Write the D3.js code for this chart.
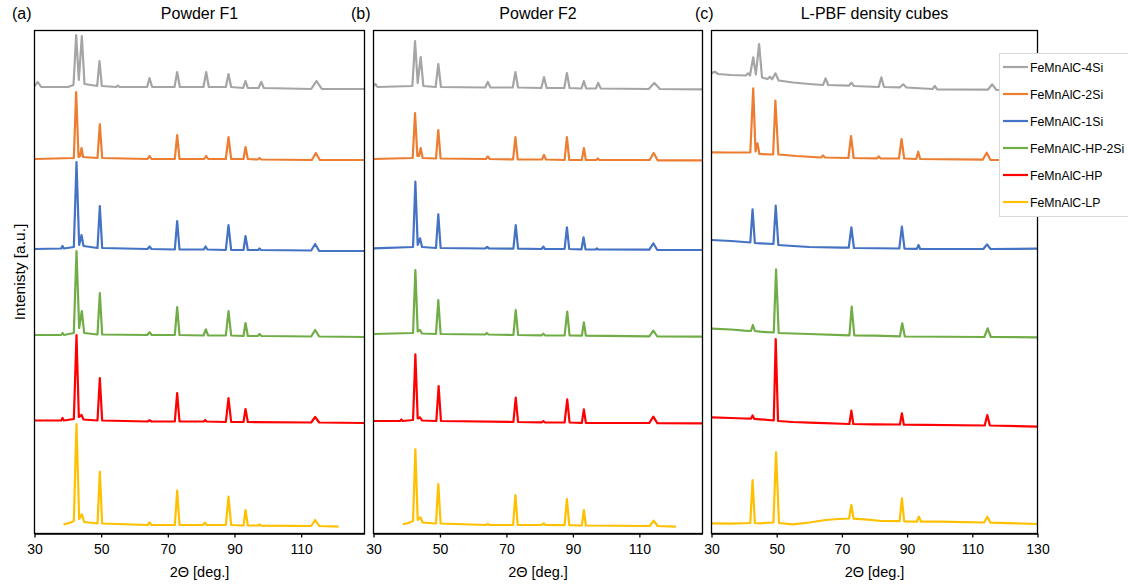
<!DOCTYPE html>
<html>
<head>
<meta charset="utf-8">
<script src="https://cdn.jsdelivr.net/npm/d3@7"></script>
<style>
  html, body { margin: 0; padding: 0; background: #fff; }
  svg { display: block; font-family: "Liberation Sans", Arial, sans-serif; }
</style>
</head>
<body>
<svg id="chart" width="1128" height="586"></svg>
<script>
// ---------------- DATA ----------------
const seriesNames = ["FeMnAlC-4Si", "FeMnAlC-2Si", "FeMnAlC-1Si", "FeMnAlC-HP-2Si", "FeMnAlC-HP", "FeMnAlC-LP"];
const seriesColors = ["#A5A5A5", "#ED7D31", "#4472C4", "#70AD47", "#FF0000", "#FFC000"];
const panelTitles = ["Powder F1", "Powder F2", "L-PBF density cubes"];
const panelLabels = ["(a)", "(b)", "(c)"];
const ticksAB = [30, 50, 70, 90, 110];
const ticksC = [30, 50, 70, 90, 110, 130];
const xTitle = "2\u0398 [deg.]";
const yTitle = "Intenisty [a.u.]";

// [2theta, stacked intensity (a.u.)]
const F1_4Si = [[30,447],[31,451],[32,446],[40,446],[41.7,448],[42.5,498],[43.3,453],[44.2,497],[45.0,449],[48.8,447],[49.5,472],[50.2,447],[54.5,446],[55,447.5],[55.5,446],[63.8,446],[64.5,455],[65.3,446],[72.0,446],[72.8,461],[73.6,446],[80.7,446],[81.5,461],[82.3,446],[87.4,446],[88.2,459],[89.0,446],[92.6,445],[93.3,452],[94.0,445],[97.2,445],[98.0,451],[98.8,445],[113,444],[114.6,452],[116.2,444],[129,444]];
const F1_2Si = [[30,374],[41.8,375],[42.5,441],[43.2,376],[43.7,377],[44.1,385],[44.6,376],[48.9,375],[49.6,409],[50.3,375],[63.9,374],[64.5,377],[65.1,374],[72.1,374],[72.8,398],[73.5,374],[80.9,374],[81.5,377],[82.1,374],[87.4,374],[88.2,396],[89.0,374],[92.7,374],[93.3,386],[94.0,374],[97,373.5],[97.5,375],[98,373.5],[113.2,373],[114.4,380],[115.6,373],[129,373]];
const F1_1Si = [[30,284],[38,284.5],[38.4,287],[38.8,284.5],[41.8,286],[42.6,371],[43.4,288],[44.1,298],[44.7,287],[48.9,285],[49.6,327],[50.3,285],[63.9,284],[64.5,286.5],[65.1,284],[72.1,283.5],[72.8,312],[73.5,283.5],[80.8,283.5],[81.3,286.5],[81.9,283.5],[87.4,283],[88.2,308],[89.0,283],[92.7,283],[93.3,297],[94.0,283],[97.1,283],[97.5,284.5],[98,283],[113.0,282.5],[114.2,289],[115.4,282],[129,282]];
const F1_HP2Si = [[30,198],[38,198],[38.4,200],[38.8,198],[41.8,200],[42.6,282],[43.4,205],[44.2,222],[44.9,200],[48.9,198.5],[49.6,240],[50.3,198.5],[63.8,198],[64.5,200.7],[65.2,198],[72.1,198],[72.8,226],[73.5,198],[80.7,197.5],[81.4,203.7],[82.1,197.5],[87.4,197.5],[88.2,222],[89.0,197.5],[92.7,197],[93.3,210],[94.0,197],[97.0,197],[97.5,199],[98.1,197],[113,196.5],[114.2,203],[115.4,196.5],[129,196]];
const F1_HP = [[30,112.5],[38,112.5],[38.4,115],[38.8,112.5],[41.8,114],[42.6,198],[43.3,116],[44.1,118],[44.7,113.5],[48.9,112.5],[49.6,155],[50.3,112.5],[63.9,111.5],[64.5,112.7],[65.1,111.5],[72.1,111.5],[72.8,140],[73.5,111.5],[80.8,111.5],[81.2,113],[81.6,111.5],[87.4,111],[88.2,135],[89.0,111],[92.7,111],[93.3,124],[94.0,111],[113,110.5],[114.2,116],[115.4,110.5],[129,110]];
const F1_LP = [[38.7,8.7],[40.5,10],[41.8,12],[42.6,109],[43.4,14],[44.2,18.7],[44.9,11],[48.9,9.5],[49.6,61.3],[50.3,9.5],[63.9,8],[64.5,10.5],[65.1,8],[72.1,8],[72.8,42.3],[73.5,8],[80.5,8],[81.1,10.3],[81.7,8],[87.4,8],[88.2,36.3],[89.0,8],[92.7,7.5],[93.3,23],[94.0,7.5],[97.1,7.5],[97.5,8.5],[98,7.3],[113,7],[114.2,13],[115.4,7],[121.2,6.3]];

const F2_4Si = [[30,447],[30.6,449],[31.2,446],[41.7,447],[42.5,492],[43.3,450],[44.2,476],[45.0,447],[48.7,446],[49.5,469],[50.3,446],[63.6,445.5],[64.4,451],[65.2,445.5],[71.9,445.5],[72.7,461],[73.5,445.5],[80.5,445],[81.3,456],[82.1,445],[87.4,445],[88.2,460],[89.0,445],[92.6,444.5],[93.3,452],[94.0,444.5],[96.9,444.5],[97.6,450],[98.4,444.5],[112.8,444],[114.5,450],[116.2,444],[129,443.7]];
const F2_2Si = [[30,374],[41.8,375],[42.5,420],[43.2,377],[43.7,377],[44.2,385],[44.8,375],[48.8,374.5],[49.5,403],[50.2,374.5],[63.8,374],[64.4,376.5],[65.0,374],[72.0,373.5],[72.7,396],[73.4,373.5],[80.7,373.5],[81.3,378],[81.9,373.5],[87.5,373],[88.2,396],[88.9,373],[92.7,373],[93.3,385],[93.9,373],[97.0,373],[97.5,374.5],[98.0,373],[113.1,373],[114.3,380],[115.5,372.7],[129,372.7]];
const F2_1Si = [[30,284.7],[41.9,286],[42.6,351.3],[43.3,288],[44.0,294.7],[44.6,286],[48.8,285],[49.5,318.7],[50.2,285],[63.6,284.5],[64.2,286],[64.8,284.5],[72.1,284.3],[72.8,308],[73.5,284.3],[80.6,284],[81.1,286.3],[81.6,284],[87.5,284],[88.2,305.7],[88.9,284],[92.6,283.7],[93.2,295.7],[93.8,283.7],[96.8,283.5],[97.2,284.5],[97.6,283.5],[113,283.3],[114.2,289.7],[115.4,283],[129,283]];
const F2_HP2Si = [[30,199],[41.9,200],[42.6,263],[43.3,201.5],[44.0,203],[44.6,199.5],[48.8,199],[49.5,233],[50.2,199],[63.6,198.5],[64.1,200],[64.6,198.5],[72.1,198],[72.8,223],[73.5,198],[80.6,197.7],[81.1,199.3],[81.6,197.7],[87.5,197.5],[88.3,221.3],[89.0,197.5],[92.7,197.3],[93.3,210.7],[93.9,197.3],[113,196.7],[114.2,202.3],[115.4,196.5],[129,196.3]];
const F2_HP = [[30,112],[38.0,112],[38.4,113.5],[38.8,112],[41.9,113],[42.6,178.7],[43.3,114.5],[44.0,115.7],[44.6,112.5],[48.9,112],[49.6,147],[50.3,112],[72.1,111],[72.8,135.3],[73.5,111],[80.6,110.7],[81.1,111.8],[81.6,110.7],[87.5,110.5],[88.3,133.7],[89.0,110.5],[92.7,110.2],[93.3,123.7],[93.9,110.2],[113,110],[114.2,116.3],[115.4,109.8],[129,109.7]];
const F2_LP = [[38.8,8.7],[40.5,10],[41.9,12],[42.6,83.7],[43.3,13],[44.1,15.7],[44.8,10.5],[48.8,9.5],[49.5,49],[50.2,9.5],[63.8,8],[64.4,9],[65.0,8],[72.0,8],[72.7,38],[73.4,8],[80.6,8],[81.2,9.7],[81.8,8],[87.5,7.8],[88.2,34],[88.9,7.8],[92.7,7.5],[93.3,23],[93.9,7.5],[113.1,7],[114.3,12.3],[115.5,7],[121.0,6.3]];

const C_4Si = [[30,459.7],[31,461.3],[32,459],[36,458],[40.5,457.5],[41.2,459.7],[41.8,457.5],[42.8,475.7],[43.6,458.5],[44.6,489],[45.5,455.5],[47.2,454],[47.9,456.3],[48.6,453.7],[49.6,459.7],[50.6,452.5],[55,450.5],[60,449],[64.2,448],[65.0,454.7],[65.8,448],[72.1,447.3],[72.9,450.3],[73.7,447],[81.3,446],[82.1,455.7],[82.9,446],[87.8,445.7],[88.8,448.7],[89.8,445.5],[97.8,444],[98.5,447],[99.2,443.7],[114.8,443.3],[116.1,448.7],[117.4,443],[130,443]];
const C_2Si = [[30,380.7],[36,380.5],[41.9,380.5],[42.8,444.7],[43.5,381.5],[44.1,389.7],[44.7,379],[48.9,378.5],[49.6,432.3],[50.5,378.5],[56,377],[63.6,375.5],[64.2,377.5],[64.8,375.5],[72.0,375],[72.8,397],[73.6,375],[80.8,374.7],[81.3,376.5],[81.8,374.7],[87.5,374.5],[88.3,394],[89.1,374.5],[92.8,374],[93.4,381.3],[94.0,374],[113.2,373.3],[114.4,380.3],[115.6,373],[130,373]];
const C_1Si = [[30,293],[36,292],[40,291],[41.9,290.5],[42.6,323.7],[43.3,290],[45,289.7],[49.0,289],[49.7,327.3],[50.5,288],[55,287],[60,286],[70,285.3],[72.1,285.3],[72.9,305.7],[73.7,285],[87.6,284.5],[88.4,306.3],[89.2,284.3],[93.0,284.2],[93.5,288],[94.0,284],[113.4,284],[114.5,288.7],[115.6,284],[130,284.3]];
const C_HP2Si = [[30,204.3],[36,203.5],[40,202.3],[42.1,202],[42.7,208],[43.3,202],[45,201.3],[49.1,200.5],[49.8,263.7],[50.6,200],[55,199.5],[60,199],[72.3,197.7],[73.0,226.3],[73.8,197.5],[80,197.3],[87.8,196.7],[88.5,209.7],[89.3,196.5],[113.7,196],[114.7,204.7],[115.7,196],[130,195.7]];
const C_HP = [[30,115.7],[36,115],[40,114.5],[42.1,114.3],[42.6,117.5],[43.1,114.2],[45,113.7],[49.1,112.5],[49.7,194],[50.4,112],[55,111],[60,110.3],[72.3,109],[72.9,122.3],[73.5,109],[80,108.7],[87.8,108.5],[88.4,119.7],[89.0,108.3],[113.8,107.5],[114.6,118],[115.4,107.5],[130,106.3]];
const C_LP = [[30,9.7],[36,9.3],[41.9,10],[42.6,53],[43.3,10],[45,9.7],[49.0,10.5],[49.8,80.7],[50.7,10],[55,8.7],[60,10.5],[65,13],[69,14],[72.2,14.5],[72.9,28],[73.6,14.3],[78,13.3],[82,12],[87.7,11.8],[88.4,34.7],[89.1,11.5],[93.0,11.3],[93.6,16.3],[94.3,11.3],[100,11.3],[113.6,10.5],[114.6,16.3],[115.6,10.3],[130,9]];

const panelData = [
  [F1_4Si, F1_2Si, F1_1Si, F1_HP2Si, F1_HP, F1_LP],
  [F2_4Si, F2_2Si, F2_1Si, F2_HP2Si, F2_HP, F2_LP],
  [C_4Si, C_2Si, C_1Si, C_HP2Si, C_HP, C_LP]
];
const panelDomains = [[30, 129], [30, 129], [30, 130]];
const panelTicks = [ticksAB, ticksAB, ticksC];

// ---------------- LAYOUT ----------------
const svg = d3.select("#chart");
const plotTop = 30.5, plotBottom = 533.5;
const frames = [[34.5, 364.5], [373.5, 702.5], [711.5, 1037.5]];
const labelX = [12, 351, 695];

const y = d3.scaleLinear().domain([0, 503]).range([533, 30]);

panelData.forEach((series, p) => {
  const [x0, x1] = frames[p];
  const x = d3.scaleLinear().domain(panelDomains[p]).range([x0, x1]);
  const g = svg.append("g");

  const clipId = "clip" + p;
  svg.append("clipPath").attr("id", clipId)
    .append("rect").attr("x", x0).attr("y", plotTop).attr("width", x1 - x0).attr("height", plotBottom - plotTop);

  const line = d3.line().x(d => x(d[0])).y(d => y(d[1])).curve(d3.curveLinear);
  const lines = g.append("g").attr("clip-path", `url(#${clipId})`);
  series.slice().reverse().forEach((s, i) => {
    const idx = series.length - 1 - i;
    lines.append("path")
      .datum(s)
      .attr("d", line)
      .attr("fill", "none")
      .attr("stroke", seriesColors[idx])
      .attr("stroke-width", 2.2)
      .attr("stroke-linejoin", "round");
  });

  // frame
  g.append("rect")
    .attr("x", x0).attr("y", plotTop).attr("width", x1 - x0).attr("height", plotBottom - plotTop)
    .attr("fill", "none").attr("stroke", "#000").attr("stroke-width", 1.3);

  // x axis
  const axis = d3.axisBottom(x).tickValues(panelTicks[p]).tickSize(4).tickSizeOuter(0).tickFormat(d3.format("d"));
  const ax = g.append("g").attr("transform", `translate(0,${plotBottom})`).call(axis);
  ax.select(".domain").attr("stroke", "#000").attr("stroke-width", 1.3);
  ax.selectAll(".tick line").attr("stroke", "#000").attr("stroke-width", 1.3);
  ax.selectAll(".tick text").attr("font-size", 14).attr("fill", "#000").attr("dy", "0.95em")
    .attr("font-family", "'Liberation Sans', Arial, sans-serif");

  // x title
  g.append("text")
    .attr("x", (x0 + x1) / 2).attr("y", 577)
    .attr("text-anchor", "middle").attr("font-size", 14.5).attr("fill", "#000")
    .text(xTitle);

  // panel title
  g.append("text")
    .attr("x", (x0 + x1) / 2).attr("y", 19)
    .attr("text-anchor", "middle").attr("font-size", 16).attr("fill", "#000")
    .text(panelTitles[p]);

  // panel label
  g.append("text")
    .attr("x", labelX[p]).attr("y", 19)
    .attr("font-size", 16).attr("fill", "#000")
    .text(panelLabels[p]);

  // legend in panel c
  if (p === 2) {
    const lg = svg.append("g");
    lg.append("rect")
      .attr("x", 999.5).attr("y", 53.5).attr("width", 140).attr("height", 163)
      .attr("fill", "#fff").attr("stroke", "#D9D9D9").attr("stroke-width", 1);
    seriesNames.forEach((name, i) => {
      const ly = 67 + i * 27;
      lg.append("line")
        .attr("x1", 1003).attr("x2", 1028).attr("y1", ly).attr("y2", ly)
        .attr("stroke", seriesColors[i]).attr("stroke-width", 2.2);
      lg.append("text")
        .attr("x", 1030).attr("y", ly + 4.5)
        .attr("font-size", 12.3).attr("fill", "#000")
        .text(name);
    });
  }
});

// y title
svg.append("text")
  .attr("transform", "translate(25,272) rotate(-90)")
  .attr("text-anchor", "middle").attr("font-size", 15.5).attr("fill", "#000")
  .text(yTitle);
</script>
</body>
</html>
